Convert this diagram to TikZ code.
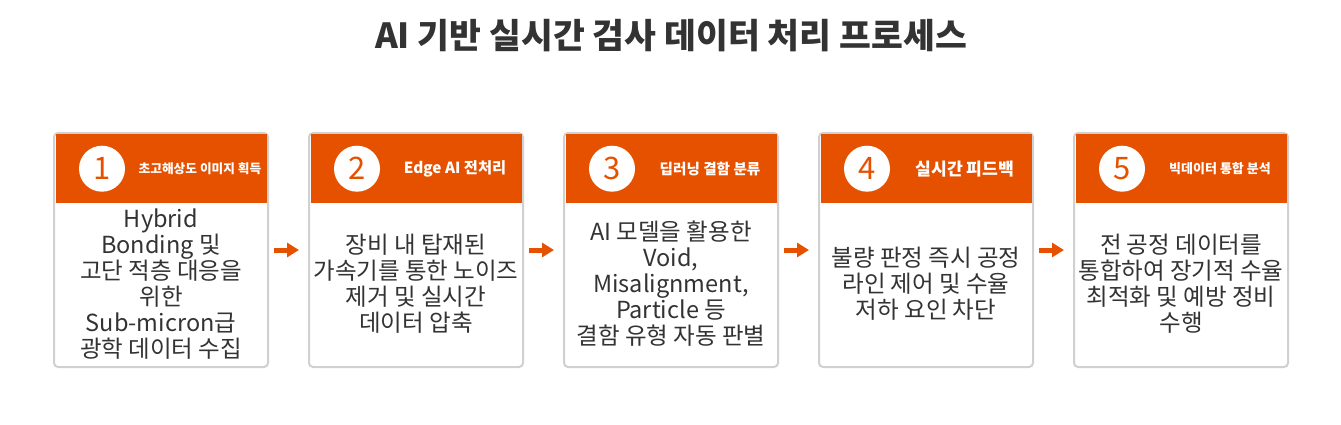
\documentclass[tikz,border=0pt]{standalone}
\usepackage{fontspec}
\setmainfont{Noto Sans CJK KR}
\usetikzlibrary{arrows.meta,positioning}
\definecolor{procorange}{HTML}{E65100}
\definecolor{cardgray}{HTML}{D0D0D0}
\definecolor{bodytext}{HTML}{333333}

\begin{document}
\begin{tikzpicture}[
        x=1pt, y=-1pt,
        card/.style  = {draw=cardgray, line width=2pt, fill=white, rounded corners=4pt, minimum width=214pt, minimum height=234pt, inner sep=0pt},
        head/.style  = {fill=procorange, minimum width=211pt, minimum height=69pt, inner sep=0pt},
        badge/.style = {circle, fill=white, minimum size=46pt, inner sep=0pt, text=procorange, font=\fontsize{31}{31}\selectfont},
        htext/.style = {text=white, inner sep=0pt},
        body/.style  = {text=bodytext, align=center, font=\fontsize{23.5}{26}\selectfont, inner sep=0pt},
        flow/.style  = {-{Triangle[length=12pt,width=14pt]}, line width=5pt, draw=procorange, shorten <=5pt, shorten >=9pt},
        ]
        \useasboundingbox (0,0) rectangle (1341,424);
        
        % title
        \node[text=bodytext, font=\fontsize{34.6}{40}\selectfont\bfseries] (title) at (671,36) {AI 기반 실시간 검사 데이터 처리 프로세스};
        
        % cards with their orange headers and numbers
        \foreach \value/\hfs/\htxt in {1/12.7/초고해상도 이미지 획득, 2/15.3/Edge AI 전처리, 3/14.6/딥러닝 결함 분류, 4/17.2/실시간 피드백, 5/13/빅데이터 통합 분석}
        {
            \node[card] (s\value) at ({161+255*(\value-1)},250) {};
            \node[head, anchor=north] (hd\value) at ([yshift=-2pt]s\value.north) {};
            \node[badge] (n\value) at ([xshift=49pt]s\value.west |- hd\value) {\value};
            \node[htext, font=\fontsize{\hfs}{\hfs}\selectfont\bfseries] (ht\value) at ([xshift=147pt]s\value.west |- hd\value) {\htxt};
        }
        
        % body texts, centred in the white part
        \begin{scope}[every node/.style={body}]
            \node (t1) at ([yshift=-34pt]s1.center) {Hybrid\\Bonding 및\\고단 적층 대응을\\위한\\Sub-micron급\\광학 데이터 수집};
            \node (t2) at ([yshift=-34pt]s2.center) {장비 내 탑재된\\가속기를 통한 노이즈\\제거 및 실시간\\데이터 압축};
            \node (t3) at ([yshift=-34pt]s3.center) {AI 모델을 활용한\\Void,\\Misalignment,\\Particle 등\\결함 유형 자동 판별};
            \node (t4) at ([yshift=-34pt]s4.center) {불량 판정 즉시 공정\\라인 제어 및 수율\\저하 요인 차단};
            \node (t5) at ([yshift=-34pt]s5.center) {전 공정 데이터를\\통합하여 장기적 수율\\최적화 및 예방 정비\\수행};
        \end{scope}
        
        % arrows between the cards
        \foreach \value [count=\nxt from 2] in {1,...,4}
        \draw[flow] (s\value) -- (s\nxt);
        
\end{tikzpicture}
\end{document}
